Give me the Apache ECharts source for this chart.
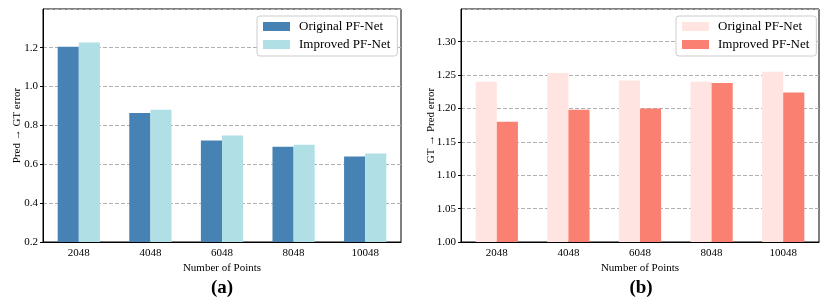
<!DOCTYPE html>
<html>
<head>
<meta charset="utf-8">
<script src="https://cdn.jsdelivr.net/npm/echarts@6/dist/echarts.min.js"></script>
<style>
html,body{margin:0;padding:0;background:#fff;}
#wrap{position:relative;width:830px;height:299px;}
#a{position:absolute;left:0;top:0;width:415px;height:299px;}
#b{position:absolute;left:415px;top:0;width:415px;height:299px;}
</style>
</head>
<body>
<div id="wrap"><div id="a"></div><div id="b"></div></div>
<script>
const categories = ['2048', '4048', '6048', '8048', '10048'];
const seriesNames = ['Original PF-Net', 'Improved PF-Net'];
const predToGtOriginal = [1.205, 0.864, 0.722, 0.690, 0.640];
const predToGtImproved = [1.226, 0.881, 0.748, 0.700, 0.655];
const gtToPredOriginal = [1.240, 1.253, 1.242, 1.240, 1.255];
const gtToPredImproved = [1.180, 1.198, 1.200, 1.238, 1.224];
const yTitleA = 'Pred \u2192 GT error';
const yTitleB = 'GT \u2192 Pred error';
const xTitle = 'Number of Points';

const FONT = '"Liberation Serif", "DejaVu Serif", serif';

function makeOption(cfg) {
  return {
    animation: false,
    textStyle: { fontFamily: FONT },
    grid: { left: cfg.gridLeft, right: cfg.gridRight, top: 9, bottom: 57, show: true,
            containLabel: false, outerBoundsMode: 'none',
            borderColor: '#000', borderWidth: 1, backgroundColor: 'transparent' },
    legend: {
      orient: 'vertical', left: cfg.legendLeft, top: 16,
      data: seriesNames,
      itemWidth: 27, itemHeight: 9, itemGap: 5,
      padding: [4, 7, 5, 6],
      borderColor: '#cccccc', borderWidth: 1, borderRadius: 3,
      backgroundColor: '#fff',
      icon: 'rect',
      textStyle: { fontFamily: FONT, fontSize: 13, color: '#000', padding: [0, 0, 0, 4] }
    },
    xAxis: {
      type: 'category', data: categories,
      name: xTitle, nameLocation: 'middle', nameGap: 21, nameMoveOverlap: false,
      nameTextStyle: { fontFamily: FONT, fontSize: 11, color: '#000' },
      axisLine: { lineStyle: { color: '#000', width: 1 } },
      axisTick: { alignWithLabel: true, length: 3, lineStyle: { color: '#000' } },
      axisLabel: { fontFamily: FONT, fontSize: 11, color: '#000', margin: 6 }
    },
    yAxis: {
      type: 'value', min: cfg.min, max: cfg.max, interval: cfg.interval,
      name: cfg.yTitle, nameLocation: 'middle', nameGap: cfg.nameGap, nameMoveOverlap: false,
      nameTextStyle: { fontFamily: FONT, fontSize: 11, color: '#000' },
      axisLine: { show: true, lineStyle: { color: '#000', width: 1 } },
      axisTick: { show: true, length: 3, lineStyle: { color: '#000' } },
      axisLabel: { fontFamily: FONT, fontSize: 11, color: '#000', margin: 5,
                   showMaxLabel: false,
                   formatter: v => v.toFixed(cfg.decimals) },
      splitLine: { show: true, lineStyle: { color: '#b0b0b0', type: [4, 2], width: 1 } }
    },
    series: [
      { name: seriesNames[0], type: 'bar', data: cfg.s1, barWidth: '29.5%', barGap: '0%',
        itemStyle: { color: cfg.c1 } },
      { name: seriesNames[1], type: 'bar', data: cfg.s2, barWidth: '29.5%', barGap: '0%',
        itemStyle: { color: cfg.c2 } }
    ],
    graphic: [{
      type: 'text', x: cfg.labelX, y: 288,
      style: { text: cfg.label, font: 'bold 19px ' + FONT, fill: '#000',
               align: 'center', verticalAlign: 'middle', textAlign: 'center', textVerticalAlign: 'middle' }
    }]
  };
}

const chartA = echarts.init(document.getElementById('a'), null, { renderer: 'canvas' });
chartA.setOption(makeOption({
  gridLeft: 43, gridRight: 14, legendLeft: 257,
  min: 0.2, max: 1.399, interval: 0.2, decimals: 1, yTitle: yTitleA, nameGap: 20,
  s1: predToGtOriginal, s2: predToGtImproved, c1: '#4682B4', c2: '#B0E0E6',
  label: '(a)', labelX: 222
}));

const chartB = echarts.init(document.getElementById('b'), null, { renderer: 'canvas' });
chartB.setOption(makeOption({
  gridLeft: 46, gridRight: 11, legendLeft: 261,
  min: 1.0, max: 1.349, interval: 0.05, decimals: 2, yTitle: yTitleB, nameGap: 24,
  s1: gtToPredOriginal, s2: gtToPredImproved, c1: '#FFE4E1', c2: '#FA8072',
  label: '(b)', labelX: 226
}));
</script>
</body>
</html>
